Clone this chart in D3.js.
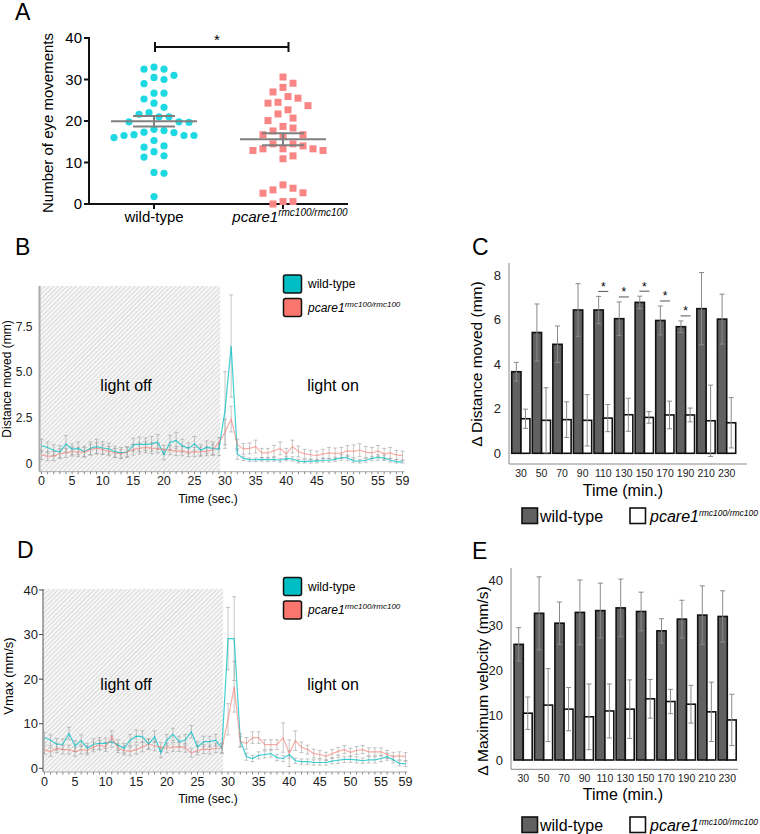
<!DOCTYPE html>
<html>
<head>
<meta charset="utf-8">
<script src="https://cdn.jsdelivr.net/npm/d3@7"></script>
<style>
body { margin: 0; background: #fff; }
text { font-family: "Liberation Sans", Arial, Helvetica, sans-serif; }
</style>
</head>
<body>
<svg id="fig" width="760" height="834"></svg>
<script>
// ---------- data ----------
// A: eye movements per larva
var eyeWt = [32.5, 32.5, 33, 31, 30, 30.5, 29, 26.7, 26.7, 25.3, 23.3, 24.3, 21.6, 21, 22, 21, 19.7, 19.8, 19.8,
    17.7, 17.2, 18, 17.3, 16.5, 16.5, 16.7, 16.5, 16, 15.3, 14, 13.7, 12.6, 11.3, 11.6, 7.6, 7.4, 1.8];
var eyeMut = [30.6, 29.1, 28.1, 27, 25.9, 25.5, 24.3, 24.5, 23.7, 22.7, 21.7, 20.7, 20.1, 18.3, 18.7, 17.6, 16.7,
    16.3, 16.7, 14, 14.5, 14.5, 13.3, 13.3, 12.9, 12.9, 13.3, 10.9, 11.6, 3.8, 2.7, 2.6, 3.4, 4.6, 0.6, 0, 0.6];

// B: distance moved per second (0..59)
var distWt = [0.95, 0.85, 0.7, 0.6, 1.05, 0.75, 0.8, 0.62, 0.8, 0.9, 0.82, 0.78, 0.62, 0.55, 0.6, 1.0, 1.02, 1.02, 1.05, 1.15,
    0.47, 1.12, 1.23, 0.95, 0.8, 1.05, 0.7, 0.85, 0.8,
    0.75, 2.9, 6.4, 0.5, 0.25, 0.18, 0.18, 0.2, 0.18, 0.2, 0.15, 0.25, 0.22, 0.1, 0.08, 0.1, 0.1, 0.15, 0.15, 0.2, 0.3,
    0.28, 0.12, 0.1, 0.15, 0.25, 0.3, 0.28, 0.15, 0.08, 0.05];
var distWtSem = [0.35, 0.3, 0.3, 0.35, 0.45, 0.3, 0.35, 0.3, 0.35, 0.4, 0.35, 0.3, 0.3, 0.3, 0.3, 0.35, 0.4, 0.35, 0.4, 0.4,
    0.3, 0.4, 0.45, 0.35, 0.3, 0.4, 0.3, 0.35, 0.35,
    0.35, 2.1, 2.8, 0.3, 0.12, 0.1, 0.1, 0.1, 0.1, 0.1, 0.1, 0.12, 0.12, 0.1, 0.1, 0.1, 0.1, 0.1, 0.1, 0.12, 0.15,
    0.15, 0.1, 0.1, 0.1, 0.12, 0.15, 0.15, 0.1, 0.1, 0.1];
var distMut = [0.44, 0.38, 0.38, 0.53, 0.55, 0.63, 0.6, 0.6, 0.73, 0.81, 0.73, 0.65, 0.55, 0.5, 0.6, 0.73, 0.8, 0.86, 0.81, 0.8,
    0.72, 0.7, 0.65, 0.65, 0.6, 0.6, 0.62, 0.65, 0.72,
    1.1, 1.7, 2.4, 1.0, 0.77, 0.8, 0.9, 0.55, 0.55, 0.66, 0.8, 0.5, 0.9, 0.63, 0.5, 0.45, 0.4, 0.5, 0.55, 0.52, 0.55,
    0.66, 0.64, 0.71, 0.6, 0.55, 0.66, 0.5, 0.55, 0.44, 0.4];
var distMutSem = [0.25, 0.25, 0.25, 0.25, 0.25, 0.25, 0.25, 0.25, 0.3, 0.3, 0.25, 0.25, 0.25, 0.25, 0.25, 0.3, 0.3, 0.3, 0.3, 0.25,
    0.25, 0.25, 0.25, 0.25, 0.25, 0.25, 0.25, 0.25, 0.3,
    0.3, 0.7, 0.7, 0.3, 0.3, 0.3, 0.35, 0.25, 0.25, 0.3, 0.35, 0.3, 0.35, 0.3, 0.25, 0.25, 0.25, 0.25, 0.3, 0.3, 0.3,
    0.3, 0.35, 0.35, 0.3, 0.3, 0.3, 0.3, 0.3, 0.25, 0.25];

// D: max velocity per second (0..59)
var vmaxWt = [6.9, 6.3, 5.4, 5.4, 7.8, 5.0, 6.2, 4.5, 5.4, 5.6, 5.6, 6.0, 5.2, 4.5, 6.3, 7.2, 7.1, 5.4, 7.1, 3.5,
    6.3, 7.6, 6.0, 6.3, 8.2, 4.8, 6.0, 6.0, 6.3,
    4.5, 29.1, 29.1, 6.3, 2.6, 2.2, 2.9, 3.1, 3.3, 2.4, 2.2, 3.1, 1.7, 1.5, 1.5, 1.3, 1.3, 1.3, 1.6, 1.8, 2.0,
    2.0, 1.9, 1.7, 1.9, 1.9, 2.2, 2.6, 1.9, 1.1, 1.0];
var vmaxWtSem = [1.2, 1.2, 1.3, 1.2, 1.4, 1.2, 1.3, 1.1, 1.2, 1.3, 1.2, 1.3, 1.2, 1.1, 1.3, 1.4, 1.3, 1.2, 1.3, 1.1,
    1.3, 1.4, 1.2, 1.3, 1.4, 1.2, 1.2, 1.2, 1.3,
    1.2, 7.0, 9.4, 1.5, 0.8, 0.7, 0.8, 0.8, 0.8, 0.7, 0.7, 0.8, 0.6, 0.6, 0.6, 0.6, 0.6, 0.6, 0.6, 0.7, 0.7,
    0.7, 0.7, 0.6, 0.7, 0.7, 0.7, 0.8, 0.7, 0.6, 0.6];
var vmaxMut = [4.2, 3.7, 4.5, 4.2, 4.2, 3.7, 4.2, 4.0, 4.8, 5.2, 4.8, 7.1, 4.5, 4.0, 3.8, 4.2, 4.8, 5.5, 5.0, 4.8,
    4.5, 4.8, 4.8, 4.6, 3.5, 4.0, 4.3, 4.2, 4.5,
    4.5, 11, 18.3, 6.0, 5.6, 6.9, 6.9, 5.3, 5.3, 5.3, 6.9, 3.4, 6.2, 4.7, 4.2, 3.3, 3.1, 2.7, 3.3, 3.8, 4.2,
    3.6, 4.0, 4.2, 3.7, 3.7, 3.7, 3.1, 2.7, 2.8, 2.6];
var vmaxMutSem = [1.0, 1.0, 1.0, 1.0, 1.0, 1.0, 1.0, 1.0, 1.1, 1.1, 1.0, 1.3, 1.0, 1.0, 1.0, 1.0, 1.1, 1.1, 1.1, 1.0,
    1.0, 1.0, 1.0, 1.0, 1.0, 1.0, 1.0, 1.0, 1.0,
    1.0, 3.5, 5.7, 1.2, 1.3, 1.3, 1.3, 1.1, 1.1, 1.1, 3.3, 3.0, 2.2, 1.2, 1.0, 1.0, 0.9, 0.9, 0.9, 0.9, 0.9,
    0.9, 0.9, 0.9, 0.9, 0.9, 0.9, 0.9, 0.9, 0.9, 0.9];

var secTicks = [0, 5, 10, 15, 20, 25, 30, 35, 40, 45, 50, 55, 59];
var lightOffEnd = 29.2;

// C / E: per 20 min bins
var times = [30, 50, 70, 90, 110, 130, 150, 170, 190, 210, 230];
var dDistWt = [3.66, 5.42, 4.89, 6.43, 6.43, 6.04, 6.77, 5.96, 5.68, 6.49, 6.02];
var dDistWtErr = [0.42, 1.28, 0.82, 1.18, 0.61, 0.75, 0.28, 0.65, 0.26, 1.62, 1.12];
var dDistMut = [1.55, 1.48, 1.51, 1.48, 1.58, 1.73, 1.61, 1.72, 1.72, 1.46, 1.37];
var dDistMutErr = [0.43, 1.46, 0.8, 1.15, 0.61, 0.74, 0.26, 0.62, 0.31, 1.6, 1.13];
var sigTimesC = [110, 130, 150, 170, 190];

var dVelWt = [25.7, 32.6, 30.4, 32.8, 33.2, 33.8, 33.0, 28.7, 31.3, 32.2, 31.9];
var dVelWtErr = [3.7, 8.1, 4.7, 7.2, 6.1, 6.4, 4.3, 2.7, 4.2, 6.5, 5.7];
var dVelMut = [10.4, 12.2, 11.3, 9.6, 10.9, 11.3, 13.6, 13.0, 12.4, 10.7, 8.9];
var dVelMutErr = [3.6, 8.1, 4.8, 7.3, 6.0, 6.5, 4.3, 2.7, 4.2, 6.6, 5.7];

var teal = "#00BFC4", salmon = "#F8766D";

var svg = d3.select("#fig");

// hatch for the dark period
var defs = svg.append("defs");
var pat = defs.append("pattern")
    .attr("id", "hatch")
    .attr("patternUnits", "userSpaceOnUse")
    .attr("width", 3.2).attr("height", 3.2)
    .attr("patternTransform", "rotate(45)");
pat.append("rect").attr("width", 3.2).attr("height", 3.2).attr("fill", "#f5f5f5");
pat.append("line").attr("x1", 0).attr("y1", 0).attr("x2", 0).attr("y2", 3.2)
    .attr("stroke", "#c2c2c2").attr("stroke-width", 1);

function pcare(sel, supSize, rise) {
    sel.append("tspan").attr("font-style", "italic").text("pcare1");
    sel.append("tspan").attr("font-style", "italic").attr("font-size", supSize).attr("dy", -rise).text("rmc100/rmc100");
}

function panelLetter(t, x, y) {
    svg.append("text").attr("x", x).attr("y", y).attr("font-size", 23).text(t);
}

// ---------- A ----------
function panelA() {
    var g = svg.append("g");
    var y = d3.scaleLinear().domain([0, 40]).range([204, 38]);
    var x = d3.scalePoint().domain(["wt", "mut"]).range([154, 283]);

    g.append("line").attr("x1", 89).attr("x2", 89).attr("y1", 37).attr("y2", 205)
        .attr("stroke", "#111").attr("stroke-width", 2);
    g.append("line").attr("x1", 88).attr("x2", 348).attr("y1", 204).attr("y2", 204)
        .attr("stroke", "#111").attr("stroke-width", 2);

    y.ticks(4).forEach(function(t) {
        g.append("line").attr("x1", 84).attr("x2", 89).attr("y1", y(t)).attr("y2", y(t))
            .attr("stroke", "#111").attr("stroke-width", 2);
        g.append("text").attr("x", 82).attr("y", y(t) + 5).attr("text-anchor", "end")
            .attr("font-size", 15).text(t);
    });
    x.domain().forEach(function(c) {
        g.append("line").attr("x1", x(c)).attr("x2", x(c)).attr("y1", 204).attr("y2", 209)
            .attr("stroke", "#111").attr("stroke-width", 2);
    });
    g.append("text").attr("x", x("wt")).attr("y", 222).attr("text-anchor", "middle")
        .attr("font-size", 15).text("wild-type");
    g.append("text").attr("x", x("mut") + 7).attr("y", 222).attr("text-anchor", "middle")
        .attr("font-size", 15).call(pcare, 10, 6);

    g.append("text").attr("transform", "translate(53,123) rotate(-90)")
        .attr("text-anchor", "middle").attr("font-size", 15).text("Number of eye movements");

    // beeswarm-like dodge
    function swarm(vals, cx) {
        var pts = vals.map(function(v) { return { v: v, y: y(v) }; })
            .sort(function(a, b) { return a.y - b.y; });
        var placed = [];
        pts.forEach(function(d) {
            for (var k = 0; k < 60; k++) {
                var off = (k % 2 ? 1 : -1) * Math.ceil(k / 2) * 5;
                var ok = placed.every(function(p) {
                    var dx = p.x - (cx + off), dy = p.y - d.y;
                    return dx * dx + dy * dy >= 9.6 * 9.6;
                });
                if (ok) { d.x = cx + off; break; }
            }
            placed.push(d);
        });
        return placed;
    }

    g.selectAll(".wt").data(swarm(eyeWt, x("wt"))).enter().append("circle")
        .attr("cx", function(d) { return d.x; }).attr("cy", function(d) { return d.y; })
        .attr("r", 3.6).attr("fill", "#1ED8E2");
    g.selectAll(".mut").data(swarm(eyeMut, x("mut"))).enter().append("rect")
        .attr("x", function(d) { return d.x - 3.5; }).attr("y", function(d) { return d.y - 3.5; })
        .attr("width", 7).attr("height", 7).attr("fill", "#F98585");

    // mean +- SEM
    [["wt", eyeWt], ["mut", eyeMut]].forEach(function(p) {
        var m = d3.mean(p[1]), se = d3.deviation(p[1]) / Math.sqrt(p[1].length), cx = x(p[0]);
        g.append("line").attr("x1", cx - 43).attr("x2", cx + 43).attr("y1", y(m)).attr("y2", y(m))
            .attr("stroke", "#808080").attr("stroke-width", 2);
        g.append("line").attr("x1", cx).attr("x2", cx).attr("y1", y(m - se)).attr("y2", y(m + se))
            .attr("stroke", "#808080").attr("stroke-width", 2);
        [m - se, m + se].forEach(function(v) {
            g.append("line").attr("x1", cx - 21).attr("x2", cx + 21).attr("y1", y(v)).attr("y2", y(v))
                .attr("stroke", "#808080").attr("stroke-width", 2);
        });
    });

    // significance bracket
    g.append("path").attr("d", "M155,42V52M155,47H288.5M288.5,42V52")
        .attr("fill", "none").attr("stroke", "#111").attr("stroke-width", 2);
    g.append("text").attr("x", 217).attr("y", 45).attr("text-anchor", "middle").attr("font-size", 15).text("*");
}

// ---------- B / D ----------
function linePanel(o) {
    var g = svg.append("g");
    var x = d3.scaleLinear().domain([0, 59]).range([o.x0, o.x1]);
    var y = d3.scaleLinear().domain([0, o.yMax]).range([o.y0, o.yM]);

    g.append("rect").attr("x", o.axisX).attr("y", o.top)
        .attr("width", x(lightOffEnd) - o.axisX).attr("height", o.axisY - o.top)
        .attr("fill", "url(#hatch)");

    // y axis
    g.append("line").attr("x1", o.axisX).attr("x2", o.axisX).attr("y1", o.top).attr("y2", o.axisY)
        .attr("stroke", o.yAxisColor).attr("stroke-width", o.yAxisWidth);
    o.yTicks.forEach(function(t) {
        if (o.tickLen) {
            g.append("line").attr("x1", o.axisX - o.tickLen).attr("x2", o.axisX).attr("y1", y(t)).attr("y2", y(t))
                .attr("stroke", "#444").attr("stroke-width", 1);
        }
        g.append("text").attr("x", o.axisX - o.labelGap).attr("y", y(t) + 4.5).attr("text-anchor", "end")
            .attr("font-size", o.tickSize).attr("fill", "#222").text(o.fmt(t));
    });

    // x axis with per-second ticks
    g.append("line").attr("x1", o.axisX).attr("x2", x(59) + 2).attr("y1", o.axisY).attr("y2", o.axisY)
        .attr("stroke", "#aaa").attr("stroke-width", 1);
    g.selectAll(".st").data(d3.range(60)).enter().append("line")
        .attr("x1", function(d) { return x(d); }).attr("x2", function(d) { return x(d); })
        .attr("y1", o.axisY).attr("y2", o.axisY + 2.5)
        .attr("stroke", "#888").attr("stroke-width", 1);
    secTicks.forEach(function(t) {
        g.append("text").attr("x", x(t)).attr("y", o.axisY + 13.5).attr("text-anchor", "middle")
            .attr("font-size", 12.5).attr("fill", "#222").text(t);
    });
    g.append("text").attr("x", 208).attr("y", o.axisY + 31).attr("text-anchor", "middle")
        .attr("font-size", 12).text("Time (sec.)");

    g.append("text").attr("transform", "translate(" + o.ylabX + "," + o.ylabY + ") rotate(-90)")
        .attr("text-anchor", "middle").attr("font-size", o.ylabSize).text(o.ylab);

    g.append("text").attr("x", 126).attr("y", o.lightY).attr("text-anchor", "middle")
        .attr("font-size", 16).text("light off");
    g.append("text").attr("x", 333).attr("y", o.lightY).attr("text-anchor", "middle")
        .attr("font-size", 16).text("light on");

    var series = [
        { v: o.wt, s: o.wtSem, c: teal, op: 0.75 },
        { v: o.mut, s: o.mutSem, c: salmon, op: 0.6 }
    ];
    series.forEach(function(sr) {
        var pts = sr.v.map(function(v, i) { return { t: i, v: v, s: sr.s[i] }; });
        g.selectAll(null).data(pts).enter().append("path")
            .attr("d", function(d) {
                var x0 = x(d.t), y1 = y(Math.max(0, d.v - d.s)), y2 = y(d.v + d.s);
                return "M" + x0 + "," + y1 + "V" + y2 + "M" + (x0 - 2) + "," + y1 + "H" + (x0 + 2) +
                    "M" + (x0 - 2) + "," + y2 + "H" + (x0 + 2);
            })
            .attr("fill", "none").attr("stroke", "#999").attr("stroke-opacity", 0.55).attr("stroke-width", 1);
    });
    series.forEach(function(sr) {
        var line = d3.line().x(function(d, i) { return x(i); }).y(function(d) { return y(d); });
        g.append("path").datum(sr.v).attr("d", line).attr("fill", "none")
            .attr("stroke", sr.c).attr("stroke-opacity", sr.op).attr("stroke-width", 1.2);
    });

    // legend
    [{ c: teal, lab: "wt" }, { c: salmon, lab: "mut" }].forEach(function(l, i) {
        var ly = o.legY + i * 23.5;
        g.append("rect").attr("x", 283.5).attr("y", ly).attr("width", 18).attr("height", 18)
            .attr("rx", 2).attr("fill", l.c).attr("stroke", "#111").attr("stroke-width", 1.5);
        var t = g.append("text").attr("x", 308).attr("y", ly + 13).attr("font-size", 12);
        if (l.lab === "wt") t.text("wild-type"); else t.call(pcare, 8, 5);
    });
}

// ---------- C / E ----------
function barPanel(o) {
    var g = svg.append("g");
    var x = d3.scaleBand().domain(times).range([o.xl, o.xr]);
    var y = d3.scaleLinear().domain([0, o.yMax]).range([o.y0, o.yM]);
    var bw = x.bandwidth();

    g.append("line").attr("x1", o.axisX).attr("x2", o.axisX).attr("y1", o.axisTop).attr("y2", o.axisY)
        .attr("stroke", "#888").attr("stroke-width", 1);
    g.append("line").attr("x1", o.axisX).attr("x2", o.axisR).attr("y1", o.axisY).attr("y2", o.axisY)
        .attr("stroke", "#888").attr("stroke-width", 1);
    o.yTicks.forEach(function(t) {
        g.append("text").attr("x", o.axisX - 8).attr("y", y(t) + 4.5).attr("text-anchor", "end")
            .attr("font-size", 13).attr("fill", "#222").text(t);
    });
    times.forEach(function(t) {
        g.append("text").attr("x", x(t) + bw / 2).attr("y", o.axisY + 13).attr("text-anchor", "middle")
            .attr("font-size", 10.5).attr("fill", "#222").text(t);
    });
    g.append("text").attr("x", 623).attr("y", o.xlabY).attr("text-anchor", "middle")
        .attr("font-size", 16).text("Time (min.)");
    g.append("text").attr("transform", "translate(" + o.ylabX + "," + o.ylabY + ") rotate(-90)")
        .attr("text-anchor", "middle").attr("font-size", 15.5).text(o.ylab);

    var groups = [
        { v: o.wt, e: o.wtErr, fill: "#616161", off: 1, w: bw / 2 - 1 },
        { v: o.mut, e: o.mutErr, fill: "#fff", off: bw / 2, w: bw / 2 - 1.3 }
    ];
    groups.forEach(function(gr) {
        g.selectAll(null).data(times).enter().append("rect")
            .attr("x", function(t) { return x(t) + gr.off; })
            .attr("y", function(t, i) { return y(gr.v[i]); })
            .attr("width", gr.w)
            .attr("height", function(t, i) { return y(0) - y(gr.v[i]); })
            .attr("fill", gr.fill).attr("stroke", "#111").attr("stroke-width", 1.6);
    });
    groups.forEach(function(gr) {
        g.selectAll(null).data(times).enter().append("path")
            .attr("d", function(t, i) {
                var cx = x(t) + gr.off + gr.w / 2, y1 = y(gr.v[i] - gr.e[i]), y2 = y(gr.v[i] + gr.e[i]);
                return "M" + cx + "," + y1 + "V" + y2 + "M" + (cx - 2.5) + "," + y1 + "H" + (cx + 2.5) +
                    "M" + (cx - 2.5) + "," + y2 + "H" + (cx + 2.5);
            })
            .attr("fill", "none").attr("stroke", "#8a8a8a").attr("stroke-width", 1);
    });

    (o.sig || []).forEach(function(t) {
        var i = times.indexOf(t), cx = x(t) + bw / 2, ly = y(o.wt[i] + o.wtErr[i]) - 5;
        g.append("line").attr("x1", cx - 5).attr("x2", cx + 5).attr("y1", ly).attr("y2", ly)
            .attr("stroke", "#555").attr("stroke-width", 1);
        g.append("text").attr("x", cx).attr("y", ly - 0.5).attr("text-anchor", "middle")
            .attr("font-size", 12).text("*");
    });

    // legend
    g.append("rect").attr("x", 522).attr("y", o.legY).attr("width", 15.5).attr("height", 15.5)
        .attr("fill", "#616161").attr("stroke", "#111").attr("stroke-width", 1.6);
    g.append("text").attr("x", 540).attr("y", o.legY + 13.5).attr("font-size", 16).text("wild-type");
    g.append("rect").attr("x", 630).attr("y", o.legY).attr("width", 15.5).attr("height", 15.5)
        .attr("fill", "#fff").attr("stroke", "#111").attr("stroke-width", 1.6);
    g.append("text").attr("x", 650).attr("y", o.legY + 13.5).attr("font-size", 16).call(pcare, 8.5, 6);
}

panelLetter("A", 15, 20);
panelLetter("B", 15, 255);
panelLetter("C", 472, 255);
panelLetter("D", 17, 558);
panelLetter("E", 472, 559);

panelA();

linePanel({
    wt: distWt, wtSem: distWtSem, mut: distMut, mutSem: distMutSem,
    x0: 41.5, x1: 402.5, y0: 463, yM: 326, yMax: 7.5,
    yTicks: [0, 2.5, 5, 7.5], fmt: function(d) { return d === 0 ? "0" : d3.format(".1f")(d); },
    axisX: 39.5, top: 286, axisY: 471.7, yAxisColor: "#aaa", yAxisWidth: 2, tickLen: 0, labelGap: 7,
    tickSize: 12, ylab: "Distance moved (mm)", ylabX: 11, ylabY: 379, ylabSize: 12,
    lightY: 391, legY: 275
});
linePanel({
    wt: vmaxWt, wtSem: vmaxWtSem, mut: vmaxMut, mutSem: vmaxMutSem,
    x0: 44.5, x1: 405.5, y0: 768.3, yM: 590, yMax: 40,
    yTicks: [0, 10, 20, 30, 40], fmt: function(d) { return d; },
    axisX: 43, top: 589, axisY: 772, yAxisColor: "#555", yAxisWidth: 1, tickLen: 4, labelGap: 5,
    tickSize: 13, ylab: "Vmax (mm/s)", ylabX: 13, ylabY: 676, ylabSize: 13,
    lightY: 690, legY: 577.5
});

barPanel({
    wt: dDistWt, wtErr: dDistWtErr, mut: dDistMut, mutErr: dDistMutErr, sig: sigTimesC,
    xl: 510.7, xr: 737, y0: 453.3, yM: 275, yMax: 8, yTicks: [0, 2, 4, 6, 8],
    axisX: 509, axisTop: 263, axisY: 464, axisR: 747,
    xlabY: 496, ylab: "\u0394 Distance moved (mm)", ylabX: 482, ylabY: 364, legY: 508
});
barPanel({
    wt: dVelWt, wtErr: dVelWtErr, mut: dVelMut, mutErr: dVelMutErr,
    xl: 513.1, xr: 737.5, y0: 760, yM: 580, yMax: 40, yTicks: [0, 10, 20, 30, 40],
    axisX: 511, axisTop: 568, axisY: 769.3, axisR: 738,
    xlabY: 800, ylab: "\u0394 Maximum velocity (mm/s)", ylabX: 488, ylabY: 681, legY: 817
});
</script>
</body>
</html>
